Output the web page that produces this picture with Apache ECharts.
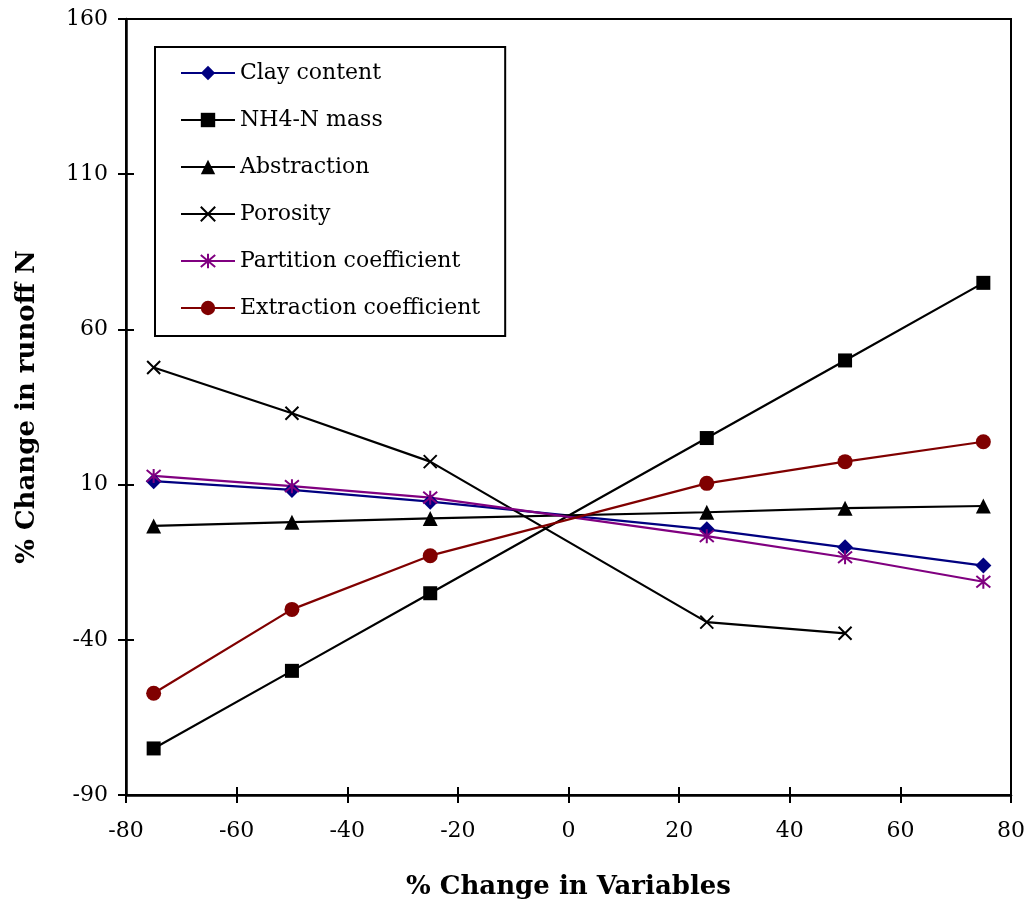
<!DOCTYPE html>
<html>
<head>
<meta charset="utf-8">
<script src="https://cdn.jsdelivr.net/npm/echarts@6/dist/echarts.min.js"></script>
<style>
html,body{margin:0;padding:0;background:#fff;}
#chart{width:1028px;height:911px;}
</style>
</head>
<body>
<div id="chart"></div>
<script>
// ---- data ----
const xValues = [-75, -50, -25, 25, 50, 75];
const clayContent = [11.1, 8.3, 4.5, -4.4, -10.2, -16.1];
const nh4nMass = [-75, -50, -25, 25, 50, 75];
const abstraction = [-3.3, -2.1, -0.9, 1.1, 2.4, 3.1];
const porosity = [47.7, 33.0, 17.4, -34.3, -37.9];
const partitionCoef = [12.8, 9.5, 5.8, -6.6, -13.4, -21.3];
const extractionCoef = [-57.2, -30.2, -12.9, 10.4, 17.4, 23.8];
const seriesNames = ['Clay content', 'NH4-N mass', 'Abstraction', 'Porosity', 'Partition coefficient', 'Extraction coefficient'];
const xTitle = '% Change in Variables';
const yTitle = '% Change in runoff N';

const FONT = 'DejaVu Serif';
const pair = (ys) => ys.map((y, i) => [xValues[i], y]);

const X_PATH = 'path://M0,0L10,10M10,0L0,10';
const STAR_PATH = 'path://M0,0L10,10M10,0L0,10M5,-1L5,11';

function mk(name, ys, color, symbol, size, stroke) {
  return {
    name: name, type: 'line', data: pair(ys),
    symbol: symbol, symbolSize: size, showAllSymbol: true,
    lineStyle: { color: color, width: 2.2 },
    itemStyle: stroke ? { color: 'rgba(0,0,0,0)', borderColor: color, borderWidth: 2 } : { color: color, borderWidth: 0 },
    emphasis: { disabled: true },
    animation: false, z: 3
  };
}

const series = [
  mk(seriesNames[0], clayContent, '#000080', 'diamond', 16, false),
  mk(seriesNames[1], nh4nMass, '#000000', 'rect', 14, false),
  mk(seriesNames[2], abstraction, '#000000', 'triangle', 15, false),
  mk(seriesNames[3], porosity, '#000000', X_PATH, 13, true),
  mk(seriesNames[4], partitionCoef, '#800080', STAR_PATH, 14, true),
  mk(seriesNames[5], extractionCoef, '#800000', 'circle', 15, false)
];

const chart = echarts.init(document.getElementById('chart'), null, { renderer: 'canvas' });
const axisLineStyle = { color: '#000', width: 2.5 };
const tickStyle = { color: '#000', width: 2 };
chart.setOption({
  animation: false,
  backgroundColor: '#fff',
  grid: { left: 126, top: 19, right: 17, bottom: 116, show: true, borderColor: '#000', borderWidth: 2, backgroundColor: 'transparent' },
  legend: {
    orient: 'vertical', left: 155, top: 47,
    padding: [13, 25, 15, 25],
    itemWidth: 54, itemHeight: 18, itemGap: 21,
    backgroundColor: '#fff', borderColor: '#000', borderWidth: 2,
    textStyle: { fontFamily: FONT, fontSize: 22, color: '#000', lineHeight: 26 },
    data: seriesNames, selectedMode: false
  },
  xAxis: [{
    type: 'value', min: -80, max: 80, interval: 20, position: 'bottom',
    name: xTitle, nameLocation: 'middle', nameGap: 79,
    nameTextStyle: { fontFamily: FONT, fontSize: 26, fontWeight: 'bold', color: '#000' },
    axisLine: { onZero: false, lineStyle: axisLineStyle },
    axisTick: { show: true, inside: false, length: 8, lineStyle: tickStyle },
    axisLabel: { fontFamily: FONT, fontSize: 22, color: '#000', margin: 25 },
    splitLine: { show: false }
  }, {
    type: 'value', min: -80, max: 80, interval: 20, position: 'bottom', offset: -8,
    axisLine: { show: false, onZero: false },
    axisTick: { show: true, inside: false, length: 8, lineStyle: tickStyle },
    axisLabel: { show: false }, splitLine: { show: false }
  }],
  yAxis: [{
    type: 'value', min: -90, max: 160, interval: 50, position: 'left',
    name: yTitle, nameLocation: 'middle', nameGap: 86,
    nameTextStyle: { fontFamily: FONT, fontSize: 26, fontWeight: 'bold', color: '#000' },
    axisLine: { onZero: false, lineStyle: axisLineStyle },
    axisTick: { show: true, inside: false, length: 8, lineStyle: tickStyle },
    axisLabel: { fontFamily: FONT, fontSize: 22, color: '#000', margin: 18 },
    splitLine: { show: false }
  }, {
    type: 'value', min: -90, max: 160, interval: 50, position: 'left', offset: -8,
    axisLine: { show: false, onZero: false },
    axisTick: { show: true, inside: false, length: 8, lineStyle: tickStyle },
    axisLabel: { show: false }, splitLine: { show: false }
  }],
  series: series
});
</script>
</body>
</html>
